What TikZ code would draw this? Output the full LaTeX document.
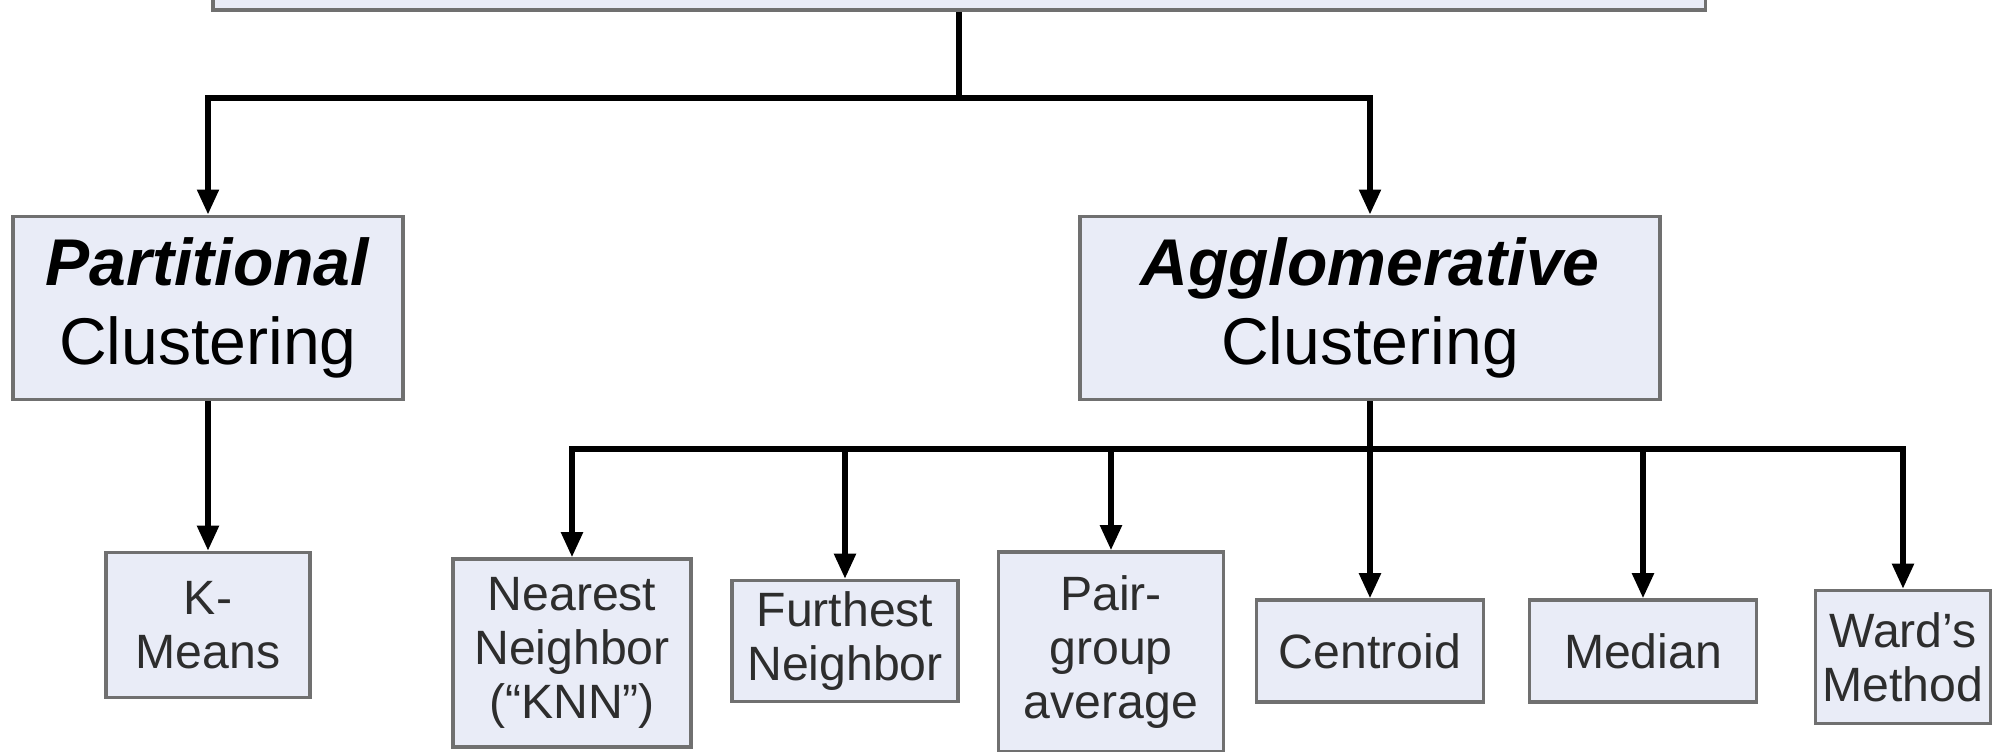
\documentclass[tikz,border=0pt]{standalone}
\usepackage{fontspec}
\setmainfont{Liberation Sans}
\usepackage{xcolor}
\usepackage{tikz}
\usetikzlibrary{arrows.meta}

\definecolor{boxfill}{RGB}{233,236,247}
\definecolor{boxline}{RGB}{112,112,112}
\definecolor{smalltext}{RGB}{45,45,45}

\tikzset{
	bigbox/.style = {draw = boxline, fill = boxfill, line width = 1.1pt, inner sep = 0pt, align = center,
		font = \fontsize{18.8}{22.5}\selectfont},
	smallbox/.style = {draw = boxline, fill = boxfill, line width = 1pt, inner sep = 0pt, align = center,
		text = smalltext, font = \fontsize{13.7}{15.4}\selectfont},
	link/.style = {line width = 1.5pt},
	arr/.style = {link, -{Triangle[length = 0.25cm, width = 0.21cm]}}
}

\begin{document}
\begin{tikzpicture}[x = 0.01cm, y = -0.01cm]
						\useasboundingbox (0,0) rectangle (2002,751);
						\clip (0,0) rectangle (2002,751);
						\fill [white] (0,0) rectangle (2002,751);

						\begin{scope}
							\node [bigbox, minimum width = 14.92cm, minimum height = 1.5cm] (root) at (959,-65) {};
							\node [bigbox, minimum width = 3.90cm, minimum height = 1.83cm] (part) at (208,308) {\textbf{\textit{Partitional}}\\Clustering};
							\node [bigbox, minimum width = 5.79cm, minimum height = 1.83cm] (aggl) at (1370,308) {\textbf{\textit{Agglomerative}}\\Clustering};
						\end{scope}
						\begin{scope}
							\node [smallbox, minimum width = 2.04cm, minimum height = 1.45cm] (kmeans) at (208,625) {K-\\Means};
							\node [smallbox, minimum width = 2.38cm, minimum height = 1.88cm] (nearest) at (572,653) {Nearest\\Neighbor\\(``KNN'')};
							\node [smallbox, minimum width = 2.26cm, minimum height = 1.21cm] (furthest) at (845,641) {Furthest\\Neighbor};
							\node [smallbox, minimum width = 2.25cm, minimum height = 2.00cm] (pairgroup) at (1111,652) {Pair-\\group\\average};
							\node [smallbox, minimum width = 2.27cm, minimum height = 1.02cm] (centroid) at (1370,651) {Centroid};
							\node [smallbox, minimum width = 2.27cm, minimum height = 1.02cm] (median) at (1643,651) {Median};
							\node [smallbox, minimum width = 1.75cm, minimum height = 1.33cm] (ward) at (1903,657) {Ward's\\Method};
						\end{scope}
						\begin{scope}
							\coordinate (split) at (959,98);
							\coordinate (bus) at (1370,449);
							\draw [link] (root.south) -- (split);
							\draw [arr] (split) -| (part.north);
							\draw [arr] (split) -| (aggl.north);
							\draw [arr] (part.south) -- (kmeans.north);
							\draw [link] (aggl.south) -- (bus);
							\foreach \leaf in {nearest, furthest, pairgroup, centroid, median, ward}
								\draw [arr] (bus) -| (\leaf.north);
						\end{scope}
					\end{tikzpicture}
\end{document}
